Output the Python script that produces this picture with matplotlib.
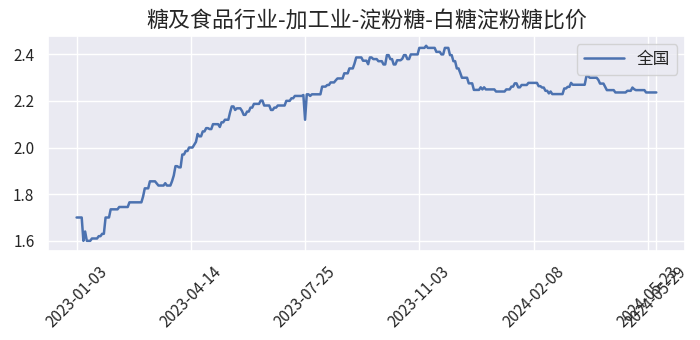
import numpy as np
import matplotlib
matplotlib.use("Agg")
import matplotlib.pyplot as plt
import seaborn as sns

sns.set_theme(style="darkgrid")
plt.rcParams['font.family'] = ['Noto Sans CJK SC', 'DejaVu Sans']
plt.rcParams['axes.unicode_minus'] = False

title = "糖及食品行业-加工业-淀粉糖-白糖淀粉糖比价"
series_name = "全国"

# daily ratio, written as runs of (value, number of days it held)
run_values = [
    1.70, 1.60, 1.64, 1.60, 1.61, 1.62, 1.63, 1.70, 1.735, 1.745,
    1.765, 1.79, 1.825, 1.855, 1.846, 1.837, 1.847, 1.837, 1.856, 1.88,
    1.92, 1.915, 1.97, 1.985, 2.0, 2.012, 2.024, 2.058, 2.048, 2.069,
    2.083, 2.079, 2.10, 2.088, 2.108, 2.119, 2.15, 2.176, 2.161, 2.168,
    2.157, 2.14, 2.154, 2.171, 2.187, 2.201, 2.18, 2.161, 2.171, 2.18,
    2.20, 2.211, 2.221, 2.225, 2.119, 2.228, 2.221, 2.228, 2.261, 2.268,
    2.279, 2.288, 2.296, 2.318, 2.339, 2.36, 2.386, 2.372, 2.357, 2.386,
    2.379, 2.37, 2.356, 2.396, 2.379, 2.356, 2.374, 2.38, 2.396, 2.379,
    2.399, 2.427, 2.436, 2.427, 2.41, 2.399, 2.427, 2.396, 2.37, 2.339,
    2.32, 2.299, 2.275, 2.247, 2.258, 2.249, 2.258, 2.249, 2.24, 2.249,
    2.261, 2.275, 2.258, 2.268, 2.277, 2.263, 2.257, 2.243, 2.232, 2.24,
    2.229, 2.253, 2.26, 2.277, 2.269, 2.306, 2.299, 2.29, 2.274, 2.26,
    2.246, 2.236, 2.243, 2.257, 2.25, 2.246, 2.236,
]
run_lengths = [
    4, 1, 1, 3, 4, 2, 2, 3, 5, 6,
    8, 1, 3, 4, 1, 4, 1, 3, 1, 1,
    2, 2, 2, 2, 3, 1, 1, 1, 2, 2,
    2, 2, 4, 1, 2, 3, 1, 2, 1, 3,
    1, 2, 2, 2, 4, 2, 4, 2, 2, 5,
    3, 2, 5, 1, 1, 2, 1, 6, 3, 2,
    3, 1, 4, 3, 3, 1, 4, 3, 1, 2,
    3, 3, 2, 2, 2, 2, 3, 1, 2, 2,
    5, 4, 1, 5, 3, 2, 3, 2, 2, 2,
    1, 4, 3, 4, 1, 1, 1, 6, 6, 3,
    2, 2, 2, 4, 6, 2, 2, 2, 1, 1,
    7, 2, 2, 1, 8, 2, 5, 1, 3, 1,
    5, 7, 3, 1, 1, 6, 7,
]

tick_labels = ["2023-01-03", "2023-04-14", "2023-07-25", "2023-11-03",
               "2024-02-08", "2024-05-23", "2024-05-29"]
tick_step = 67

values = np.repeat(run_values, run_lengths)
x = np.arange(len(values))

fig, ax = plt.subplots(figsize=(7, 3.4), dpi=100)
fig.subplots_adjust(left=0.068, right=0.979, top=0.894, bottom=0.263)

ax.plot(x, values, color="#4C72B0", linewidth=1.8, label=series_name)

ticks = list(x[::tick_step]) + [x[-1]]
ax.set_xticks(ticks)
ax.set_xticklabels(tick_labels, rotation=45, fontsize=11)
ax.set_yticks([1.6, 1.8, 2.0, 2.2, 2.4])
ax.set_yticklabels(["1.6", "1.8", "2.0", "2.2", "2.4"], fontsize=11)

ax.set_title(title, fontsize=15.8)
ax.legend(loc="upper right", fontsize=12, handlelength=2.4)

fig.savefig("out.png", dpi=100)
